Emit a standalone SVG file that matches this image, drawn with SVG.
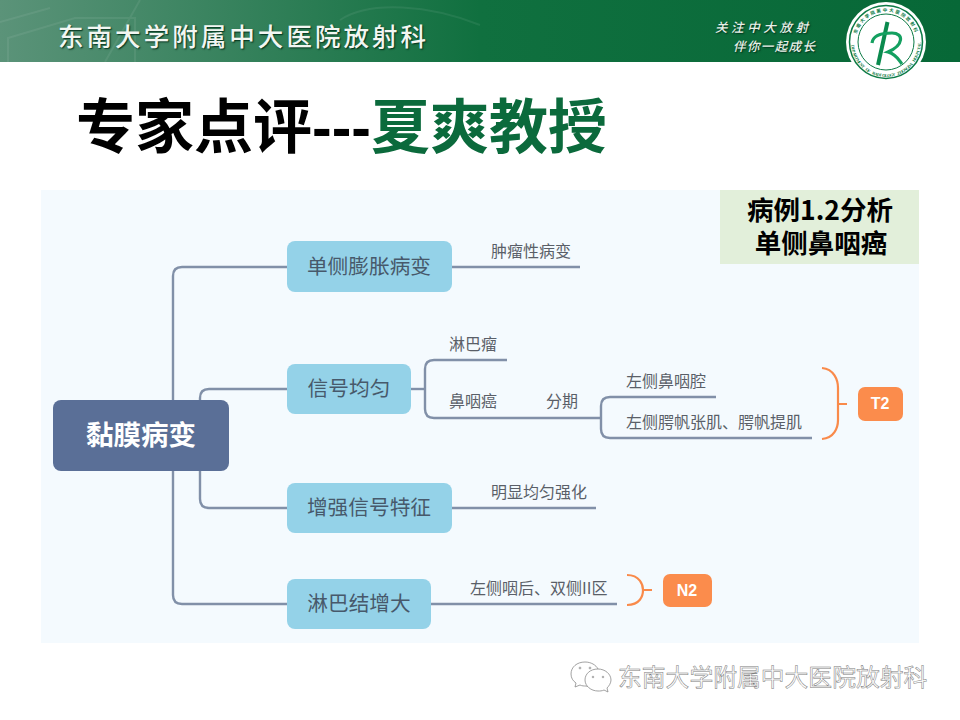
<svg xmlns="http://www.w3.org/2000/svg" width="960" height="720" viewBox="0 0 960 720">
<style>
.cjk{font-family:"Noto Sans CJK SC","Liberation Sans",sans-serif}
.line{fill:none;stroke:#8190a8;stroke-width:2.4}
.or{fill:none;stroke:#f98a4a;stroke-width:2.2}
.n{fill:#94d2e8}
.nt{font-family:"Noto Sans CJK SC",sans-serif;font-size:20.7px;fill:#47596b;text-anchor:middle}
.lb{font-family:"Noto Sans CJK SC",sans-serif;font-size:16px;fill:#5a5f68}
.tag{font-family:"Liberation Sans",sans-serif;font-weight:700;font-size:16px;fill:#fff;text-anchor:middle}
.ban{font-family:"Noto Sans CJK SC",serif;font-weight:500;text-shadow:1px 1px 1.500px #00301a}
</style>
<defs>
<linearGradient id="bn" x1="0" x2="1" y1="0" y2="0"><stop offset="0" stop-color="#5b9379"/><stop offset="0.5" stop-color="#10703f"/><stop offset="1" stop-color="#076837"/></linearGradient>
</defs>
<rect width="960" height="720" fill="#fff"/>
<g id="banner">
<rect width="960" height="62" fill="url(#bn)"/>
<g fill="none" stroke="#fff" stroke-opacity="0.07" stroke-width="2"><path d="M0 22L50 8M8 62V38L75 18H135V62M105 62L140 0M340 20C370 0 430 5 480 25"/></g>
<text x="58" y="46" class="ban" font-size="25.500" fill="#f2f6f2" letter-spacing="3.050">东南大学附属中大医院放射科</text>
<text x="715" y="32" class="ban" font-size="12.500" font-style="italic" fill="#e8f0e8" letter-spacing="3.600">关注中大放射</text>
<text x="733" y="51" class="ban" font-size="12.500" font-style="italic" fill="#e8f0e8" letter-spacing="1.400">伴你一起成长</text>
</g>
<g id="logo">
<circle cx="886" cy="42" r="40" fill="#fff"/>
<circle cx="886" cy="42" r="36.500" fill="none" stroke="#0b7a45" stroke-width="1.500"/>
<circle cx="886" cy="42" r="28" fill="none" stroke="#0b7a45" stroke-width="1"/>
<path d="M887.500 22L878 65" stroke="#0b8a4e" stroke-width="4" fill="none"/>
<path d="M872 43C873 35 882 33 892 33C904 33 904 45 888 52C896 54 899 60 902 64" stroke="#14a060" stroke-width="3.200" fill="none"/>
<text font-family="Noto Sans CJK SC,sans-serif" font-size="4.500" font-weight="700" fill="#0b7a45"
 x="856.5 858.7 862 866.2 871.2 876.8 882.8 888.9 894.9 900.6 905.6 909.9 913.2"
 y="34.1 28.4 23.2 18.8 15.3 12.9 11.7 11.6 12.8 15.2 18.6 23 28.2"
 rotate="-70 -58.5 -47 -35.5 -24 -12.5 -1 10.5 22 33.5 45 56.5 68">东南大学院属中大医院放射科</text>
<text font-family="Liberation Serif,serif" font-size="4.300" font-weight="700" fill="#0b7a45"
 x="851.13 851.47 852 852.73 853.65 854.76 856.04 857.51 859.15 860.93 862.86 864.92 867.1 869.4 871.78 874.26 876.8 879.39 882.03 884.67 887.33 889.97 892.61 895.2 897.74 900.22 902.6 904.9 907.08 909.14 911.07 912.85 914.49 915.96 917.24 918.35 919.27 920 920.53 920.87"
 y="45.05 47.69 50.3 52.87 55.36 57.78 60.1 62.33 64.44 66.4 68.26 69.94 71.46 72.82 73.98 74.97 75.77 76.37 76.77 76.97 76.97 76.77 76.37 75.77 74.97 73.98 72.82 71.46 69.94 68.26 66.4 64.44 62.33 60.1 57.78 55.36 52.87 50.3 47.69 45.05"
 rotate="85 80.6 76.3 71.9 67.6 63.2 58.8 54.5 50.1 45.8 41.4 37 32.7 28.3 24 19.6 15.2 10.9 6.5 2.2 -2.2 -6.5 -10.9 -15.2 -19.6 -24 -28.3 -32.7 -37 -41.4 -45.8 -50.1 -54.5 -58.8 -63.2 -67.6 -71.9 -76.3 -80.6 -85">DEPARTMENT OF RADIOLOGY ZHONGDA HOSPITAL</text>
</g>
<g id="title">
<text x="76" y="148" class="cjk" font-size="59" font-weight="700" fill="#000">专家点评<tspan font-family="Liberation Sans">---</tspan><tspan fill="#0b6a3c">夏爽教授</tspan></text>
</g>
<rect id="panel" x="41" y="190" width="878" height="453" fill="#f4fafe"/>
<g id="connectors">
<path class="line" d="M287 267H182Q173 267 173 276V595Q173 604 182 604H287"/>
<path class="line" d="M287 389H209Q200 389 200 398V499Q200 508 209 508H287"/>
<path class="line" d="M452 267H580"/>
<path class="line" d="M411 389H425"/>
<path class="line" d="M507 360H434Q425 360 425 369V409Q425 418 434 418H601"/>
<path class="line" d="M716 397H610Q601 397 601 406V429Q601 438 610 438H812"/>
<path class="line" d="M452 508H596"/>
<path class="line" d="M431 604H617"/>
<path class="or" d="M822 368C834 369 838 380 838 388V420C838 428 834 438 822 439M838 404H847"/>
<path class="or" d="M627 575C640 575 643 585 643 590C643 596 640 605 627 605M643 590H652"/>
</g>
<g id="root"><rect x="53" y="400" width="176" height="71" rx="8" fill="#5a6f97"/><text x="141" y="445" text-anchor="middle" font-family="Noto Sans CJK SC,sans-serif" font-size="27.500" font-weight="700" fill="#fff">黏膜病变</text></g>
<g id="n1"><rect class="n" x="287" y="241" width="165" height="51" rx="8"/><text class="nt" x="369" y="274">单侧膨胀病变</text></g>
<g id="n2"><rect class="n" x="287" y="364" width="124" height="50" rx="8"/><text class="nt" x="349" y="396">信号均匀</text></g>
<g id="n3"><rect class="n" x="287" y="483" width="165" height="50" rx="8"/><text class="nt" x="369" y="515">增强信号特征</text></g>
<g id="n4"><rect class="n" x="287" y="579" width="144" height="50" rx="8"/><text class="nt" x="359" y="611">淋巴结增大</text></g>
<g id="labels">
<text class="lb" x="491" y="257">肿瘤性病变</text>
<text class="lb" x="449" y="350">淋巴瘤</text>
<text class="lb" x="449" y="407">鼻咽癌</text>
<text class="lb" x="546" y="407">分期</text>
<text class="lb" x="626" y="387">左侧鼻咽腔</text>
<text class="lb" x="626" y="428">左侧腭帆张肌、腭帆提肌</text>
<text class="lb" x="491" y="498">明显均匀强化</text>
<text class="lb" x="470" y="594">左侧咽后、双侧II区</text>
</g>
<g id="t2"><rect x="858" y="387" width="45" height="34" rx="7" fill="#fb8c4c"/><text class="tag" x="880" y="409">T2</text></g>
<g id="n2tag"><rect x="663" y="574" width="49" height="33" rx="7" fill="#fb8c4c"/><text class="tag" x="687" y="596">N2</text></g>
<g id="note"><rect x="720" y="190" width="199" height="74" fill="#e2efda"/>
<text text-anchor="middle" font-family="Noto Sans CJK SC,sans-serif" font-size="26.500" font-weight="700" fill="#000"><tspan x="820" y="220">病例1.2分析</tspan><tspan x="821" y="253">单侧鼻咽癌</tspan></text></g>
<g id="wechat" fill="#fff" stroke="#8a8a8a" stroke-width="0.800">
<path d="M585 662C577 662 571 667 571 674C571 678 573 681 576 683L575 687L580 685C582 686 584 686 586 686C596 690 600 672 598 669C596 665 591 662 585 662Z"/>
<path d="M598 669C590 669 585 674 585 680C585 686 591 691 598 691C600 691 602 691 604 690L608 692L607 688C609 686 611 683 611 680C611 674 605 669 598 669Z"/>
<circle cx="580" cy="668" r="0.900"/><circle cx="590" cy="668" r="0.900"/><circle cx="593" cy="677" r="0.800"/><circle cx="603" cy="677" r="0.800"/>
</g>
<g opacity="0.99"><text id="watermark" x="618" y="686" font-family="Noto Sans CJK SC,sans-serif" font-size="23.800" fill="#fff" stroke="#7a7a7a" stroke-width="0.500">东南大学附属中大医院放射科</text></g>
</svg>
